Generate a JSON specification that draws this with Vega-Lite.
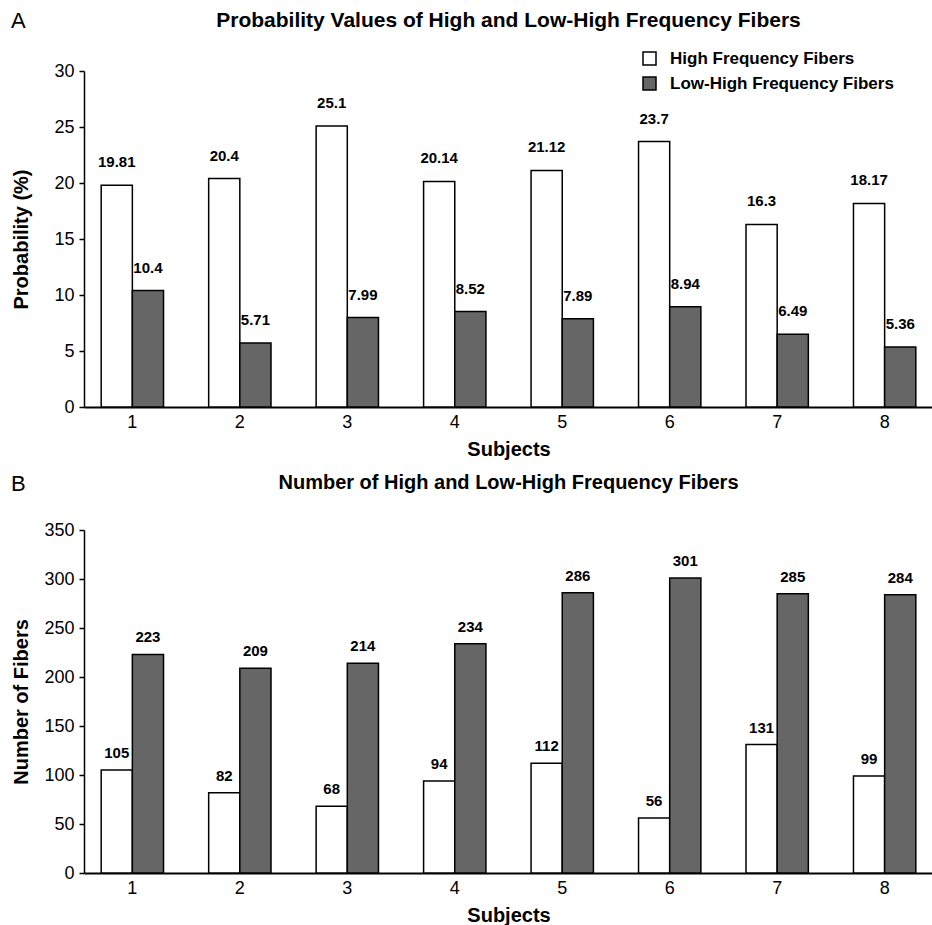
{
  "$schema": "https://vega.github.io/schema/vega-lite/v6.json",
  "padding": {"left": 11, "top": 10, "right": 0, "bottom": 0},
  "spacing": 14,
  "config": {
    "font": "Liberation Sans",
    "view": {"stroke": null},
    "axis": {
      "grid": false,
      "domainColor": "black",
      "tickColor": "black",
      "labelColor": "black",
      "titleColor": "black",
      "labelFontSize": 18,
      "titleFontSize": 20,
      "titleFontWeight": "bold",
      "labelFont": "Liberation Sans",
      "titleFont": "Liberation Sans"
    },
    "axisY": {"domainWidth": 1.5, "tickSize": 5, "tickWidth": 1.5, "labelPadding": 5, "titlePadding": 8, "minExtent": 45, "maxExtent": 45},
    "axisX": {"domainWidth": 2, "ticks": false, "labelAngle": 0, "labelPadding": 6, "titlePadding": 8},
    "title": {"color": "black", "font": "Liberation Sans"}
  },
  "datasets": {
    "fibers": [
      {"Subject": "1", "Series": "High Frequency Fibers", "Probability": 19.81, "Fibers": 105},
      {"Subject": "1", "Series": "Low-High Frequency Fibers", "Probability": 10.4, "Fibers": 223},
      {"Subject": "2", "Series": "High Frequency Fibers", "Probability": 20.4, "Fibers": 82},
      {"Subject": "2", "Series": "Low-High Frequency Fibers", "Probability": 5.71, "Fibers": 209},
      {"Subject": "3", "Series": "High Frequency Fibers", "Probability": 25.1, "Fibers": 68},
      {"Subject": "3", "Series": "Low-High Frequency Fibers", "Probability": 7.99, "Fibers": 214},
      {"Subject": "4", "Series": "High Frequency Fibers", "Probability": 20.14, "Fibers": 94},
      {"Subject": "4", "Series": "Low-High Frequency Fibers", "Probability": 8.52, "Fibers": 234},
      {"Subject": "5", "Series": "High Frequency Fibers", "Probability": 21.12, "Fibers": 112},
      {"Subject": "5", "Series": "Low-High Frequency Fibers", "Probability": 7.89, "Fibers": 286},
      {"Subject": "6", "Series": "High Frequency Fibers", "Probability": 23.7, "Fibers": 56},
      {"Subject": "6", "Series": "Low-High Frequency Fibers", "Probability": 8.94, "Fibers": 301},
      {"Subject": "7", "Series": "High Frequency Fibers", "Probability": 16.3, "Fibers": 131},
      {"Subject": "7", "Series": "Low-High Frequency Fibers", "Probability": 6.49, "Fibers": 285},
      {"Subject": "8", "Series": "High Frequency Fibers", "Probability": 18.17, "Fibers": 99},
      {"Subject": "8", "Series": "Low-High Frequency Fibers", "Probability": 5.36, "Fibers": 284}
    ]
  },
  "resolve": {"scale": {"fill": "independent"}, "legend": {"fill": "independent"}},
  "vconcat": [
    {
      "title": {"text": "A", "anchor": "start", "frame": "bounds", "fontSize": 22, "fontWeight": "normal", "dy": 27},
      "vconcat": [
        {
          "title": {"text": "Probability Values of High and Low-High Frequency Fibers", "anchor": "middle", "frame": "group", "fontSize": 21, "fontWeight": "bold", "offset": 31},
          "width": 849,
          "height": 336,
          "data": {"name": "fibers"},
          "encoding": {
            "x": {"field": "Subject", "type": "nominal", "title": "Subjects", "scale": {"paddingInner": 0.42, "paddingOuter": 0.16}},
            "xOffset": {"field": "Series", "type": "nominal", "sort": ["High Frequency Fibers", "Low-High Frequency Fibers"]},
            "y": {"field": "Probability", "type": "quantitative", "title": "Probability (%)", "scale": {"domain": [0, 30]}, "axis": {"values": [0, 5, 10, 15, 20, 25, 30]}}
          },
          "layer": [
            {
              "mark": {"type": "bar", "stroke": "black", "strokeWidth": 1.5},
              "encoding": {
                "fill": {
                  "field": "Series", "type": "nominal",
                  "scale": {"domain": ["High Frequency Fibers", "Low-High Frequency Fibers"], "range": ["white", "#666666"]},
                  "legend": {
                    "title": null, "orient": "none", "legendX": 557, "legendY": -21,
                    "symbolType": "square", "symbolSize": 169, "symbolStrokeColor": "black", "symbolStrokeWidth": 1.5,
                    "labelFontSize": 17, "labelFontWeight": "bold", "labelColor": "black", "labelFont": "Liberation Sans",
                    "labelOffset": 12, "rowPadding": 6, "labelLimit": 500
                  }
                }
              }
            },
            {
              "mark": {"type": "text", "fontWeight": "bold", "fontSize": 15, "baseline": "bottom", "dy": -15, "color": "black"},
              "encoding": {"text": {"field": "Probability", "type": "nominal"}}
            }
          ]
        }
      ]
    },
    {
      "title": {"text": "B", "anchor": "start", "frame": "bounds", "fontSize": 22, "fontWeight": "normal", "dy": 27},
      "vconcat": [
        {
          "title": {"text": "Number of High and Low-High Frequency Fibers", "anchor": "middle", "frame": "group", "fontSize": 20, "fontWeight": "bold", "offset": 28},
          "width": 849,
          "height": 343,
          "data": {"name": "fibers"},
          "encoding": {
            "x": {"field": "Subject", "type": "nominal", "title": "Subjects", "scale": {"paddingInner": 0.42, "paddingOuter": 0.16}},
            "xOffset": {"field": "Series", "type": "nominal", "sort": ["High Frequency Fibers", "Low-High Frequency Fibers"]},
            "y": {"field": "Fibers", "type": "quantitative", "title": "Number of Fibers", "scale": {"domain": [0, 350]}, "axis": {"values": [0, 50, 100, 150, 200, 250, 300, 350]}}
          },
          "layer": [
            {
              "mark": {"type": "bar", "stroke": "black", "strokeWidth": 1.5},
              "encoding": {
                "fill": {
                  "field": "Series", "type": "nominal",
                  "scale": {"domain": ["High Frequency Fibers", "Low-High Frequency Fibers"], "range": ["white", "#666666"]},
                  "legend": null
                }
              }
            },
            {
              "mark": {"type": "text", "fontWeight": "bold", "fontSize": 15, "baseline": "bottom", "dy": -9, "color": "black"},
              "encoding": {"text": {"field": "Fibers", "type": "nominal"}}
            }
          ]
        }
      ]
    }
  ]
}
